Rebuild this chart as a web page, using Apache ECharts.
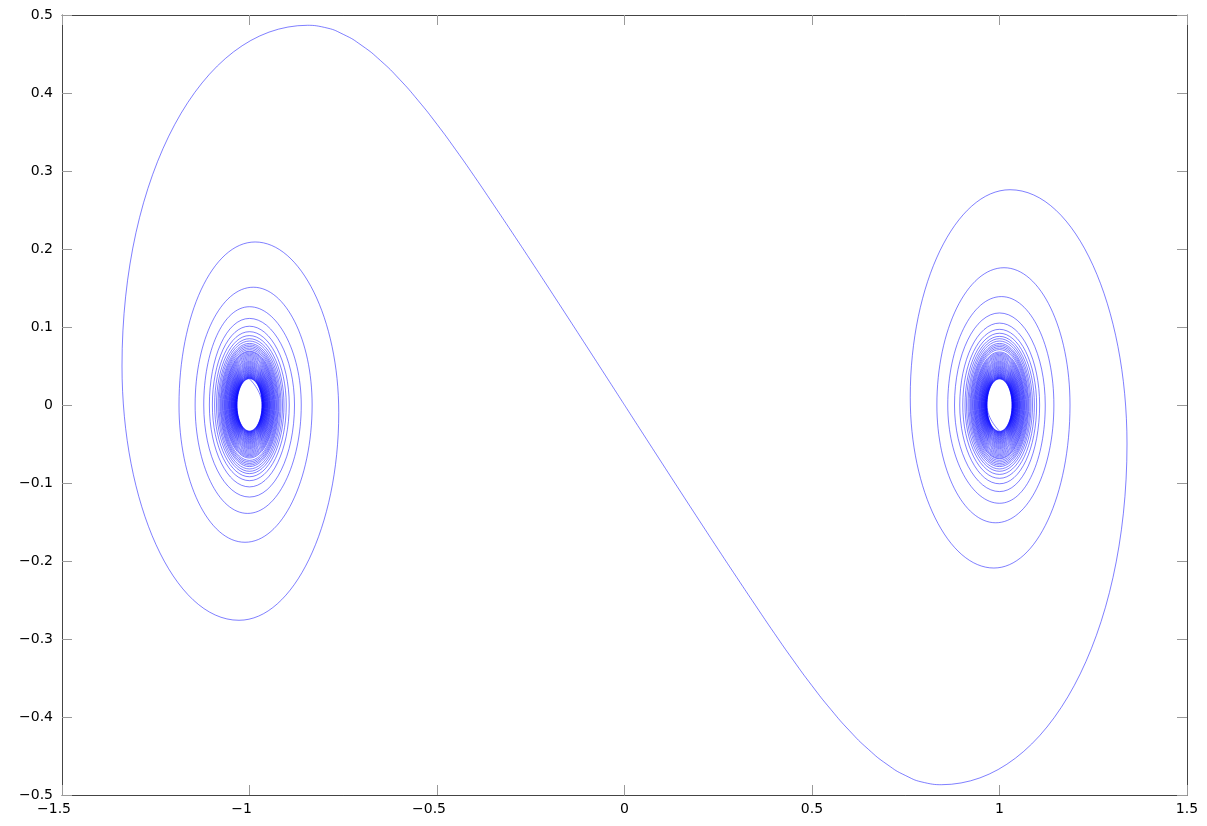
<!DOCTYPE html>
<html>
<head>
<meta charset="utf-8">
<script src="https://cdn.jsdelivr.net/npm/echarts@6/dist/echarts.min.js"></script>
<style>
html,body{margin:0;padding:0;background:#fff;}
#chart{width:1207px;height:826px;}
</style>
</head>
<body>
<div id="chart"></div>
<script>
// Tick labels
const xTicks = [-1.5, -1, -0.5, 0, 0.5, 1, 1.5];
const yTicks = [-0.5, -0.4, -0.3, -0.2, -0.1, 0, 0.1, 0.2, 0.3, 0.4, 0.5];

// Trajectory leaving the saddle at (0,0) toward the right well:
// points along the S down to its bottom
const sCurveX = [0, 0.05, 0.1, 0.15, 0.2, 0.25, 0.3, 0.35, 0.4, 0.45, 0.5, 0.55, 0.6, 0.65, 0.7, 0.75, 0.8, 0.845];
const sCurveY = [0, -0.0373, -0.0745, -0.1116, -0.1485, -0.1852, -0.2215, -0.2574, -0.2929, -0.3272, -0.3599,
  -0.3902, -0.4176, -0.4413, -0.4607, -0.4752, -0.4841, -0.4868];
// first loop: right extreme, top, left extreme, bottom
const firstLoop = [[1.34, -0.05], [1.028, 0.276], [0.762, 0.01], [0.985, -0.209]];
// Following loops around the well: right extreme, top, left extreme, bottom
const loopRight   = [1.188, 1.145, 1.122, 1.107, 1.099, 1.093, 1.088, 1.084, 1.081, 1.078, 1.076, 1.074, 1.072, 1.070];
const loopTopX    = [1.012, 1.005, 1.0, 1.0, 1.0, 1.0, 1.0, 1.0, 1.0, 1.0, 1.0, 1.0, 1.0, 1.0];
const loopTop     = [0.176, 0.139, 0.118, 0.105, 0.097, 0.092, 0.088, 0.085, 0.082, 0.079, 0.077, 0.075, 0.073, 0.071];
const loopLeft    = [0.833, 0.862, 0.880, 0.894, 0.902, 0.908, 0.912, 0.916, 0.919, 0.922, 0.924, 0.926, 0.928, 0.930];
const loopBottomX = [0.99, 1.0, 1.0, 1.0, 1.0, 1.0, 1.0, 1.0, 1.0, 1.0, 1.0, 1.0, 1.0, 1.0];
const loopBottom  = [-0.151, -0.126, -0.111, -0.101, -0.094, -0.089, -0.085, -0.082, -0.079, -0.077, -0.075, -0.073, -0.071, -0.069];
// Dense inner band around the well centre: loop radii (estimated)
const wellX = 1;
const denseRadii = [0.068, 0.0665, 0.065, 0.0635, 0.062, 0.0605, 0.059, 0.0575, 0.056, 0.0548,
  0.0536, 0.0524, 0.0512, 0.05, 0.049, 0.048, 0.047, 0.046, 0.0451, 0.0442, 0.0433, 0.0424,
  0.0416, 0.0408, 0.04, 0.0393, 0.0386, 0.0379, 0.0373, 0.0367, 0.0361, 0.0356, 0.0351,
  0.0346, 0.0342, 0.0338, 0.0334];

// The second trajectory (toward the left well) is the point reflection of the first.
function buildTrajectory(s) {
  const pts = sCurveX.map((x, i) => [s * x, s * sCurveY[i]]);
  firstLoop.forEach(p => pts.push([s * p[0], s * p[1]]));
  for (let k = 0; k < loopRight.length; k++) {
    pts.push([s * loopRight[k], 0]);
    pts.push([s * loopTopX[k], s * loopTop[k]]);
    pts.push([s * loopLeft[k], 0]);
    pts.push([s * loopBottomX[k], s * loopBottom[k]]);
  }
  for (let k = 0; k < denseRadii.length; k++) {
    const r = denseRadii[k];
    pts.push([s * (wellX + r), 0]);
    pts.push([s * wellX, s * r]);
    pts.push([s * (wellX - r), 0]);
    pts.push([s * wellX, -s * r]);
  }
  return pts;
}

const numStr = v => String(+(+v).toFixed(2)).replace('-', '\u2212');

const chart = echarts.init(document.getElementById('chart'));
const axisLine = {show: true, onZero: false, lineStyle: {color: '#444', width: 1}};
const tick = {show: true, inside: true, length: 10, lineStyle: {color: '#9a9a9a', width: 1}};
const font = {color: '#000', fontSize: 14, fontFamily: 'DejaVu Sans, sans-serif'};

const lineStyle = {color: 'rgba(0,0,255,0.5)', width: 1};

chart.setOption({
  animation: false,
  grid: {left: 62, right: 20, top: 15, bottom: 31},
  xAxis: [
    {type: 'value', min: -1.5, max: 1.5, interval: 0.5, position: 'bottom',
     axisLine, axisTick: tick, splitLine: {show: false},
     axisLabel: Object.assign({margin: 7,
       formatter: v => (v < 0 ? '{n|' + numStr(v) + '}' : '{p|' + numStr(v) + '}'),
       rich: {n: Object.assign({padding: [0, 16, 0, 0]}, font), p: Object.assign({}, font)}
     }, font)},
    {type: 'value', min: -1.5, max: 1.5, interval: 0.5, position: 'top',
     axisLine, axisTick: tick, splitLine: {show: false}, axisLabel: {show: false}}
  ],
  yAxis: [
    {type: 'value', min: -0.5, max: 0.5, interval: 0.1, position: 'left',
     axisLine, axisTick: tick, splitLine: {show: false},
     axisLabel: Object.assign({margin: 9, formatter: numStr}, font)},
    {type: 'value', min: -0.5, max: 0.5, interval: 0.1, position: 'right',
     axisLine, axisTick: tick, splitLine: {show: false}, axisLabel: {show: false}}
  ],
  series: [
    {type: 'line', data: buildTrajectory(1), smooth: 0.55, symbol: 'none', lineStyle},
    {type: 'line', data: buildTrajectory(-1), smooth: 0.55, symbol: 'none', lineStyle}
  ]
});
</script>
</body>
</html>
